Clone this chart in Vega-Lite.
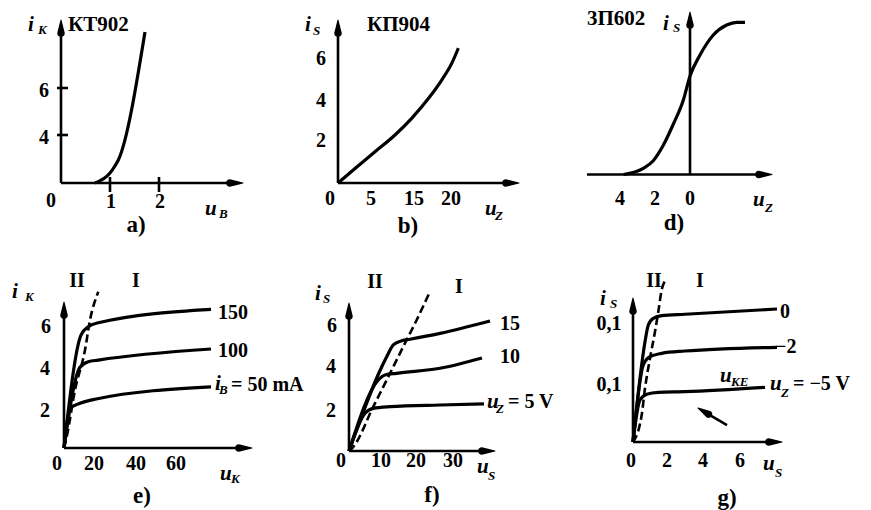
{
"$schema":"https://vega.github.io/schema/vega-lite/v6.json",
"background":"white",
"padding":0,
"spacing":0,
"bounds":"flush",
"align":"each",
"columns":3,
"config":{
"view":{"stroke":null},
"text":{"font":"Liberation Serif","fontWeight":"bold","fontSize":20,"baseline":"alphabetic","align":"left","color":"black"},
"line":{"color":"black","strokeWidth":3.2,"interpolate":"monotone"},
"rule":{"color":"black","strokeWidth":2.6},
"trail":{"color":"black","opacity":1}
},
"datasets":{
"curves":[
{"p":"a","s":"k","x":0.694,"y":1.957},{"p":"a","s":"k","x":1.0,"y":2.383},{"p":"a","s":"k","x":1.10,"y":2.68},{"p":"a","s":"k","x":1.17,"y":2.936},{"p":"a","s":"k","x":1.714,"y":8.383},
{"p":"b","s":"k","x":0,"y":0},{"p":"b","s":"k","x":3.11,"y":0.70},{"p":"b","s":"k","x":6.76,"y":1.50},{"p":"b","s":"k","x":10.42,"y":2.31},{"p":"b","s":"k","x":13.47,"y":3.11},{"p":"b","s":"k","x":16.52,"y":4.06},{"p":"b","s":"k","x":18.96,"y":4.95},{"p":"b","s":"k","x":20.79,"y":5.75},{"p":"b","s":"k","x":22.0,"y":6.48},
{"p":"d","s":"k","x":-3.8,"y":0},{"p":"d","s":"k","x":-2.67,"y":0.31},{"p":"d","s":"k","x":-2.10,"y":0.69},{"p":"d","s":"k","x":-1.52,"y":1.475},{"p":"d","s":"k","x":-0.95,"y":2.525},{"p":"d","s":"k","x":-0.38,"y":3.725},{"p":"d","s":"k","x":0,"y":4.925},{"p":"d","s":"k","x":0.571,"y":5.975},{"p":"d","s":"k","x":1.333,"y":6.975},{"p":"d","s":"k","x":2.095,"y":7.475},{"p":"d","s":"k","x":2.667,"y":7.61},{"p":"d","s":"k","x":3.143,"y":7.61},
{"p":"e","s":"150","x":0,"y":0},{"p":"e","s":"150","x":9.22,"y":5.51},{"p":"e","s":"150","x":13.19,"y":5.92},{"p":"e","s":"150","x":18.61,"y":6.11},{"p":"e","s":"150","x":79.76,"y":6.76},
{"p":"e","s":"100","x":0,"y":0},{"p":"e","s":"100","x":8.68,"y":3.94},{"p":"e","s":"100","x":13.19,"y":4.21},{"p":"e","s":"100","x":18.61,"y":4.29},{"p":"e","s":"100","x":79.76,"y":4.83},
{"p":"e","s":"50","x":0,"y":0},{"p":"e","s":"50","x":3.26,"y":1.94},{"p":"e","s":"50","x":8.68,"y":2.18},{"p":"e","s":"50","x":16.82,"y":2.38},{"p":"e","s":"50","x":79.76,"y":2.98},
{"p":"e","s":"dash","x":0,"y":0},{"p":"e","s":"dash","x":1.47,"y":0.55},{"p":"e","s":"dash","x":5.97,"y":2.83},{"p":"e","s":"dash","x":11.39,"y":4.78},{"p":"e","s":"dash","x":14.11,"y":6.24},{"p":"e","s":"dash","x":18.61,"y":7.62},
{"p":"f","s":"15","x":0,"y":0},{"p":"f","s":"15","x":10.77,"y":4.49},{"p":"f","s":"15","x":12.66,"y":5.05},{"p":"f","s":"15","x":15.06,"y":5.25},{"p":"f","s":"15","x":17.43,"y":5.32},{"p":"f","s":"15","x":26.0,"y":5.60},{"p":"f","s":"15","x":40.29,"y":6.19},
{"p":"f","s":"10","x":0,"y":0},{"p":"f","s":"10","x":8.37,"y":3.38},{"p":"f","s":"10","x":10.29,"y":3.62},{"p":"f","s":"10","x":13.63,"y":3.70},{"p":"f","s":"10","x":26.0,"y":3.94},{"p":"f","s":"10","x":38.0,"y":4.43},
{"p":"f","s":"5","x":0,"y":0},{"p":"f","s":"5","x":4.57,"y":1.80},{"p":"f","s":"5","x":6.94,"y":2.03},{"p":"f","s":"5","x":11.71,"y":2.11},{"p":"f","s":"5","x":26.0,"y":2.19},{"p":"f","s":"5","x":38.57,"y":2.24},
{"p":"f","s":"dash","x":0,"y":0},{"p":"f","s":"dash","x":1.23,"y":0.20},{"p":"f","s":"dash","x":6.94,"y":2.11},{"p":"f","s":"dash","x":10.77,"y":3.38},{"p":"f","s":"dash","x":15.51,"y":4.97},{"p":"f","s":"dash","x":19.34,"y":6.24},{"p":"f","s":"dash","x":23.14,"y":7.59},
{"p":"g","s":"0","x":0,"y":0},{"p":"g","s":"0","x":0.667,"y":0.1729},{"p":"g","s":"0","x":0.85,"y":0.2017},{"p":"g","s":"0","x":1.128,"y":0.2133},{"p":"g","s":"0","x":1.594,"y":0.2178},{"p":"g","s":"0","x":2.889,"y":0.2202},{"p":"g","s":"0","x":8.0,"y":0.2293},
{"p":"g","s":"-2","x":0,"y":0},{"p":"g","s":"-2","x":0.572,"y":0.1328},{"p":"g","s":"-2","x":0.944,"y":0.1471},{"p":"g","s":"-2","x":1.594,"y":0.1529},{"p":"g","s":"-2","x":2.889,"y":0.1569},{"p":"g","s":"-2","x":8.0,"y":0.1633},
{"p":"g","s":"-5","x":0,"y":0},{"p":"g","s":"-5","x":0.389,"y":0.0724},{"p":"g","s":"-5","x":0.761,"y":0.0822},{"p":"g","s":"-5","x":1.406,"y":0.0857},{"p":"g","s":"-5","x":2.889,"y":0.0867},{"p":"g","s":"-5","x":7.333,"y":0.0943},
{"p":"g","s":"dash","x":0,"y":0},{"p":"g","s":"dash","x":0.483,"y":0.0466},{"p":"g","s":"dash","x":0.667,"y":0.0926},{"p":"g","s":"dash","x":0.944,"y":0.1443},{"p":"g","s":"dash","x":1.222,"y":0.1902},{"p":"g","s":"dash","x":1.406,"y":0.2247},{"p":"g","s":"dash","x":1.594,"y":0.2621},{"p":"g","s":"dash","x":1.78,"y":0.278}
],
"axes":[
{"p":"a","x":0,"y":1.957,"x2":0,"y2":8.68},{"p":"a","x":0,"y":1.957,"x2":3.612,"y2":1.957},
{"p":"a","x":-0.082,"y":4,"x2":0.143,"y2":4},{"p":"a","x":-0.082,"y":6,"x2":0.143,"y2":6},
{"p":"a","x":1,"y":1.574,"x2":1,"y2":2.213},{"p":"a","x":2,"y":1.574,"x2":2,"y2":2.213},
{"p":"b","x":0,"y":0,"x2":0,"y2":7.597},{"p":"b","x":0,"y":0,"x2":32.18,"y2":0},
{"p":"d","x":0,"y":0,"x2":0,"y2":7.875},{"p":"d","x":-5.886,"y":0,"x2":4.40,"y2":0},
{"p":"e","x":0,"y":0,"x2":0,"y2":6.876},{"p":"e","x":0,"y":0,"x2":99.29,"y2":0},
{"p":"f","x":0,"y":0,"x2":0,"y2":6.81},{"p":"f","x":0,"y":0,"x2":40.28,"y2":0},
{"p":"g","x":0,"y":0,"x2":0,"y2":0.2397},{"p":"g","x":0,"y":0,"x2":8.0,"y2":0},
{"p":"g","x":5.222,"y":0.0293,"x2":3.851,"y2":0.0542}
],
"tips":[
{"p":"a","h":"up","x":0,"y":8.894,"w":0},{"p":"a","h":"up","x":0,"y":8.341,"w":1},
{"p":"a","h":"right","x":3.714,"y":1.957,"w":0},{"p":"a","h":"right","x":3.449,"y":1.957,"w":1},
{"p":"b","h":"up","x":0,"y":7.837,"w":0},{"p":"b","h":"up","x":0,"y":7.212,"w":1},
{"p":"b","h":"right","x":33.09,"y":0,"w":0},{"p":"b","h":"right","x":30.71,"y":0,"w":1},
{"p":"d","h":"up","x":0,"y":8.125,"w":0},{"p":"d","h":"up","x":0,"y":7.475,"w":1},
{"p":"d","h":"right","x":4.686,"y":0,"w":0},{"p":"d","h":"right","x":3.943,"y":0,"w":1},
{"p":"e","h":"up","x":0,"y":7.12,"w":0},{"p":"e","h":"up","x":0,"y":6.486,"w":1},
{"p":"e","h":"right","x":102.0,"y":0,"w":0},{"p":"e","h":"right","x":94.95,"y":0,"w":1},
{"p":"f","h":"up","x":0,"y":7.048,"w":0},{"p":"f","h":"up","x":0,"y":6.429,"w":1},
{"p":"f","h":"right","x":41.71,"y":0,"w":0},{"p":"f","h":"right","x":38.0,"y":0,"w":1},
{"p":"g","h":"up","x":0,"y":0.2483,"w":0},{"p":"g","h":"up","x":0,"y":0.2259,"w":1},
{"p":"g","h":"right","x":8.278,"y":0,"w":0},{"p":"g","h":"right","x":7.556,"y":0,"w":1},
{"p":"g","h":"ul","x":3.611,"y":0.0586,"w":0},{"p":"g","h":"ul","x":4.187,"y":0.0481,"w":1}
],
"labels":[
{"p":"a","k":"v","t":"i","x":-0.673,"y":8.426},
{"p":"a","k":"s","t":"K","x":-0.470,"y":8.298},
{"p":"a","k":"l","t":"КТ902","x":0.143,"y":8.426},
{"p":"a","k":"c","t":"6","x":-0.347,"y":5.617},
{"p":"a","k":"c","t":"4","x":-0.347,"y":3.617},
{"p":"a","k":"c","t":"0","x":-0.204,"y":0.936},
{"p":"a","k":"c","t":"1","x":1.020,"y":0.894},
{"p":"a","k":"c","t":"2","x":2.020,"y":0.894},
{"p":"a","k":"v","t":"u","x":2.939,"y":0.596},
{"p":"a","k":"s","t":"B","x":3.224,"y":0.468},
{"p":"a","k":"cap","t":"a)","x":1.531,"y":-0.128},
{"p":"b","k":"v","t":"i","x":-6.033,"y":7.308},
{"p":"b","k":"s","t":"S","x":-4.571,"y":7.115},
{"p":"b","k":"l","t":"КП904","x":5.302,"y":7.308},
{"p":"b","k":"c","t":"6","x":-3.108,"y":5.673},
{"p":"b","k":"c","t":"4","x":-3.108,"y":3.654},
{"p":"b","k":"c","t":"2","x":-3.108,"y":1.731},
{"p":"b","k":"c","t":"0","x":-1.463,"y":-1.058},
{"p":"b","k":"c","t":"5","x":6.033,"y":-1.058},
{"p":"b","k":"c","t":"15","x":13.894,"y":-1.058},
{"p":"b","k":"c","t":"20","x":20.658,"y":-1.058},
{"p":"b","k":"v","t":"u","x":26.874,"y":-1.538},
{"p":"b","k":"s","t":"Z","x":28.702,"y":-1.779},
{"p":"b","k":"cap","t":"b)","x":12.797,"y":-2.404},
{"p":"d","k":"l","t":"3П602","x":-5.886,"y":7.475},
{"p":"d","k":"v","t":"i","x":-1.543,"y":7.225},
{"p":"d","k":"s","t":"S","x":-0.971,"y":7.125},
{"p":"d","k":"c","t":"4","x":-4,"y":-1.525},
{"p":"d","k":"c","t":"2","x":-2,"y":-1.525},
{"p":"d","k":"c","t":"0","x":0,"y":-1.525},
{"p":"d","k":"v","t":"u","x":3.6,"y":-1.575},
{"p":"d","k":"s","t":"Z","x":4.286,"y":-1.875},
{"p":"d","k":"cap","t":"d)","x":-0.914,"y":-2.775},
{"p":"e","k":"v","t":"i","x":-28.21,"y":7.317},
{"p":"e","k":"s","t":"K","x":-21.17,"y":7.171},
{"p":"e","k":"c","t":"II","x":7.05,"y":7.854},
{"p":"e","k":"c","t":"I","x":39.07,"y":7.854},
{"p":"e","k":"c","t":"6","x":-9.77,"y":5.61},
{"p":"e","k":"c","t":"4","x":-10.31,"y":3.561},
{"p":"e","k":"c","t":"2","x":-10.31,"y":1.512},
{"p":"e","k":"c","t":"0","x":-3.80,"y":-1.073},
{"p":"e","k":"c","t":"20","x":16.28,"y":-1.073},
{"p":"e","k":"c","t":"40","x":39.07,"y":-1.073},
{"p":"e","k":"c","t":"60","x":60.77,"y":-1.073},
{"p":"e","k":"v","t":"u","x":84.65,"y":-1.561},
{"p":"e","k":"s","t":"K","x":90.62,"y":-1.707},
{"p":"e","k":"cap","t":"e)","x":42.32,"y":-2.683},
{"p":"e","k":"l","t":"150","x":83.56,"y":6.293},
{"p":"e","k":"l","t":"100","x":83.56,"y":4.439},
{"p":"e","k":"v","t":"i","x":81.93,"y":2.829},
{"p":"e","k":"s","t":"B","x":84.11,"y":2.634},
{"p":"e","k":"l","t":"= 50 mA","x":90.61,"y":2.780},
{"p":"f","k":"v","t":"i","x":-9.714,"y":7.190},
{"p":"f","k":"s","t":"S","x":-7.428,"y":7.048},
{"p":"f","k":"c","t":"II","x":7.429,"y":7.762},
{"p":"f","k":"c","t":"I","x":31.43,"y":7.524},
{"p":"f","k":"c","t":"6","x":-4.857,"y":5.667},
{"p":"f","k":"c","t":"4","x":-5.143,"y":3.714},
{"p":"f","k":"c","t":"2","x":-5.143,"y":1.619},
{"p":"f","k":"c","t":"0","x":-2.286,"y":-0.762},
{"p":"f","k":"c","t":"10","x":9.143,"y":-0.762},
{"p":"f","k":"c","t":"20","x":19.14,"y":-0.762},
{"p":"f","k":"c","t":"30","x":29.71,"y":-0.762},
{"p":"f","k":"v","t":"u","x":36.57,"y":-1.048},
{"p":"f","k":"s","t":"S","x":39.72,"y":-1.381},
{"p":"f","k":"cap","t":"f)","x":23.71,"y":-2.429},
{"p":"f","k":"l","t":"15","x":43.14,"y":5.762},
{"p":"f","k":"l","t":"10","x":43.14,"y":4.190},
{"p":"f","k":"v","t":"u","x":39.43,"y":2.048},
{"p":"f","k":"s","t":"Z","x":42.0,"y":1.810},
{"p":"f","k":"l","t":"= 5 V","x":45.43,"y":2.048},
{"p":"g","k":"v","t":"i","x":-1.833,"y":0.2362},
{"p":"g","k":"s","t":"S","x":-1.278,"y":0.2310},
{"p":"g","k":"c","t":"II","x":1.167,"y":0.2672},
{"p":"g","k":"c","t":"I","x":3.722,"y":0.2672},
{"p":"g","k":"c","t":"0,1","x":-1.333,"y":0.1931},
{"p":"g","k":"c","t":"0,1","x":-1.333,"y":0.0879},
{"p":"g","k":"c","t":"0","x":-0.111,"y":-0.0431},
{"p":"g","k":"c","t":"2","x":1.889,"y":-0.0431},
{"p":"g","k":"c","t":"4","x":3.889,"y":-0.0431},
{"p":"g","k":"c","t":"6","x":5.944,"y":-0.0431},
{"p":"g","k":"v","t":"u","x":7.222,"y":-0.0483},
{"p":"g","k":"s","t":"S","x":7.889,"y":-0.0603},
{"p":"g","k":"cap","t":"g)","x":5.222,"y":-0.1086},
{"p":"g","k":"l","t":"0","x":8.167,"y":0.2138},
{"p":"g","k":"l","t":"−2","x":7.889,"y":0.1534},
{"p":"g","k":"v","t":"u","x":7.611,"y":0.0897},
{"p":"g","k":"s","t":"Z","x":8.222,"y":0.0776},
{"p":"g","k":"l","t":"= −5 V","x":8.889,"y":0.0897},
{"p":"g","k":"v","t":"u","x":4.833,"y":0.1034},
{"p":"g","k":"s","t":"KE","x":5.445,"y":0.0966}
]
},
"concat":[
{"width":290,"height":250,
"encoding":{"x":{"field":"x","type":"quantitative","axis":null,"scale":{"domain":[-1.2449,4.6735],"nice":false,"zero":false}},"y":{"field":"y","type":"quantitative","axis":null,"scale":{"domain":[-0.8936,9.7447],"nice":false,"zero":false}}},
"layer":[
{"data":{"name":"axes"},"transform":[{"filter":"datum.p=='a'"}],"mark":"rule","encoding":{"x2":{"field":"x2"},"y2":{"field":"y2"}}},
{"data":{"name":"tips"},"transform":[{"filter":"datum.p=='a'"}],"mark":{"type":"trail"},"encoding":{"detail":{"field":"h"},"size":{"field":"w","type":"quantitative","scale":{"domain":[0,1],"range":[0,7.5]},"legend":null}}},
{"data":{"name":"curves"},"transform":[{"filter":"datum.p=='a' && datum.s!='dash'"}],"mark":{"type":"line"},"encoding":{"detail":{"field":"s"}}},
{"data":{"name":"labels"},"transform":[{"filter":"datum.p=='a' && datum.k=='c'"}],"mark":{"type":"text","align":"center"},"encoding":{"text":{"field":"t"}}},
{"data":{"name":"labels"},"transform":[{"filter":"datum.p=='a' && datum.k=='l'"}],"mark":{"type":"text","fontSize":21},"encoding":{"text":{"field":"t"}}},
{"data":{"name":"labels"},"transform":[{"filter":"datum.p=='a' && datum.k=='cap'"}],"mark":{"type":"text","align":"center","fontSize":23},"encoding":{"text":{"field":"t"}}},
{"data":{"name":"labels"},"transform":[{"filter":"datum.p=='a' && datum.k=='v'"}],"mark":{"type":"text","fontStyle":"italic","fontSize":21},"encoding":{"text":{"field":"t"}}},
{"data":{"name":"labels"},"transform":[{"filter":"datum.p=='a' && datum.k=='s'"}],"mark":{"type":"text","fontStyle":"italic","fontSize":13},"encoding":{"text":{"field":"t"}}}
]},
{"width":290,"height":250,
"encoding":{"x":{"field":"x","type":"quantitative","axis":null,"scale":{"domain":[-8.775,44.241],"nice":false,"zero":false}},"y":{"field":"y","type":"quantitative","axis":null,"scale":{"domain":[-3.221,8.798],"nice":false,"zero":false}}},
"layer":[
{"data":{"name":"axes"},"transform":[{"filter":"datum.p=='b'"}],"mark":"rule","encoding":{"x2":{"field":"x2"},"y2":{"field":"y2"}}},
{"data":{"name":"tips"},"transform":[{"filter":"datum.p=='b'"}],"mark":{"type":"trail"},"encoding":{"detail":{"field":"h"},"size":{"field":"w","type":"quantitative","scale":{"domain":[0,1],"range":[0,7.5]},"legend":null}}},
{"data":{"name":"curves"},"transform":[{"filter":"datum.p=='b' && datum.s!='dash'"}],"mark":{"type":"line"},"encoding":{"detail":{"field":"s"}}},
{"data":{"name":"labels"},"transform":[{"filter":"datum.p=='b' && datum.k=='c'"}],"mark":{"type":"text","align":"center"},"encoding":{"text":{"field":"t"}}},
{"data":{"name":"labels"},"transform":[{"filter":"datum.p=='b' && datum.k=='l'"}],"mark":{"type":"text","fontSize":21},"encoding":{"text":{"field":"t"}}},
{"data":{"name":"labels"},"transform":[{"filter":"datum.p=='b' && datum.k=='cap'"}],"mark":{"type":"text","align":"center","fontSize":23},"encoding":{"text":{"field":"t"}}},
{"data":{"name":"labels"},"transform":[{"filter":"datum.p=='b' && datum.k=='v'"}],"mark":{"type":"text","fontStyle":"italic","fontSize":21},"encoding":{"text":{"field":"t"}}},
{"data":{"name":"labels"},"transform":[{"filter":"datum.p=='b' && datum.k=='s'"}],"mark":{"type":"text","fontStyle":"italic","fontSize":13},"encoding":{"text":{"field":"t"}}}
]},
{"width":291,"height":250,
"encoding":{"x":{"field":"x","type":"quantitative","axis":null,"scale":{"domain":[-6.2857,10.3429],"nice":false,"zero":false}},"y":{"field":"y","type":"quantitative","axis":null,"scale":{"domain":[-3.775,8.725],"nice":false,"zero":false}}},
"layer":[
{"data":{"name":"axes"},"transform":[{"filter":"datum.p=='d'"}],"mark":"rule","encoding":{"x2":{"field":"x2"},"y2":{"field":"y2"}}},
{"data":{"name":"tips"},"transform":[{"filter":"datum.p=='d'"}],"mark":{"type":"trail"},"encoding":{"detail":{"field":"h"},"size":{"field":"w","type":"quantitative","scale":{"domain":[0,1],"range":[0,7.5]},"legend":null}}},
{"data":{"name":"curves"},"transform":[{"filter":"datum.p=='d' && datum.s!='dash'"}],"mark":{"type":"line"},"encoding":{"detail":{"field":"s"}}},
{"data":{"name":"labels"},"transform":[{"filter":"datum.p=='d' && datum.k=='c'"}],"mark":{"type":"text","align":"center"},"encoding":{"text":{"field":"t"}}},
{"data":{"name":"labels"},"transform":[{"filter":"datum.p=='d' && datum.k=='l'"}],"mark":{"type":"text","fontSize":21},"encoding":{"text":{"field":"t"}}},
{"data":{"name":"labels"},"transform":[{"filter":"datum.p=='d' && datum.k=='cap'"}],"mark":{"type":"text","align":"center","fontSize":23},"encoding":{"text":{"field":"t"}}},
{"data":{"name":"labels"},"transform":[{"filter":"datum.p=='d' && datum.k=='v'"}],"mark":{"type":"text","fontStyle":"italic","fontSize":21},"encoding":{"text":{"field":"t"}}},
{"data":{"name":"labels"},"transform":[{"filter":"datum.p=='d' && datum.k=='s'"}],"mark":{"type":"text","fontStyle":"italic","fontSize":13},"encoding":{"text":{"field":"t"}}}
]},
{"width":290,"height":260,
"encoding":{"x":{"field":"x","type":"quantitative","axis":null,"scale":{"domain":[-34.726,122.62],"nice":false,"zero":false}},"y":{"field":"y","type":"quantitative","axis":null,"scale":{"domain":[-3.024,9.659],"nice":false,"zero":false}}},
"layer":[
{"data":{"name":"axes"},"transform":[{"filter":"datum.p=='e'"}],"mark":"rule","encoding":{"x2":{"field":"x2"},"y2":{"field":"y2"}}},
{"data":{"name":"tips"},"transform":[{"filter":"datum.p=='e'"}],"mark":{"type":"trail"},"encoding":{"detail":{"field":"h"},"size":{"field":"w","type":"quantitative","scale":{"domain":[0,1],"range":[0,7.5]},"legend":null}}},
{"data":{"name":"curves"},"transform":[{"filter":"datum.p=='e' && datum.s!='dash'"}],"mark":{"type":"line"},"encoding":{"detail":{"field":"s"}}},
{"data":{"name":"curves"},"transform":[{"filter":"datum.p=='e' && datum.s=='dash'"}],"mark":{"type":"line","strokeWidth":2.6,"strokeDash":[8,4]}},
{"data":{"name":"labels"},"transform":[{"filter":"datum.p=='e' && datum.k=='c'"}],"mark":{"type":"text","align":"center"},"encoding":{"text":{"field":"t"}}},
{"data":{"name":"labels"},"transform":[{"filter":"datum.p=='e' && datum.k=='l'"}],"mark":{"type":"text"},"encoding":{"text":{"field":"t"}}},
{"data":{"name":"labels"},"transform":[{"filter":"datum.p=='e' && datum.k=='cap'"}],"mark":{"type":"text","align":"center","fontSize":23},"encoding":{"text":{"field":"t"}}},
{"data":{"name":"labels"},"transform":[{"filter":"datum.p=='e' && datum.k=='v'"}],"mark":{"type":"text","fontStyle":"italic","fontSize":21},"encoding":{"text":{"field":"t"}}},
{"data":{"name":"labels"},"transform":[{"filter":"datum.p=='e' && datum.k=='s'"}],"mark":{"type":"text","fontStyle":"italic","fontSize":13},"encoding":{"text":{"field":"t"}}}
]},
{"width":290,"height":260,
"encoding":{"x":{"field":"x","type":"quantitative","axis":null,"scale":{"domain":[-16.857,66.0],"nice":false,"zero":false}},"y":{"field":"y","type":"quantitative","axis":null,"scale":{"domain":[-2.810,9.571],"nice":false,"zero":false}}},
"layer":[
{"data":{"name":"axes"},"transform":[{"filter":"datum.p=='f'"}],"mark":"rule","encoding":{"x2":{"field":"x2"},"y2":{"field":"y2"}}},
{"data":{"name":"tips"},"transform":[{"filter":"datum.p=='f'"}],"mark":{"type":"trail"},"encoding":{"detail":{"field":"h"},"size":{"field":"w","type":"quantitative","scale":{"domain":[0,1],"range":[0,7.5]},"legend":null}}},
{"data":{"name":"curves"},"transform":[{"filter":"datum.p=='f' && datum.s!='dash'"}],"mark":{"type":"line"},"encoding":{"detail":{"field":"s"}}},
{"data":{"name":"curves"},"transform":[{"filter":"datum.p=='f' && datum.s=='dash'"}],"mark":{"type":"line","strokeWidth":2.6,"strokeDash":[8,4]}},
{"data":{"name":"labels"},"transform":[{"filter":"datum.p=='f' && datum.k=='c'"}],"mark":{"type":"text","align":"center"},"encoding":{"text":{"field":"t"}}},
{"data":{"name":"labels"},"transform":[{"filter":"datum.p=='f' && datum.k=='l'"}],"mark":{"type":"text"},"encoding":{"text":{"field":"t"}}},
{"data":{"name":"labels"},"transform":[{"filter":"datum.p=='f' && datum.k=='cap'"}],"mark":{"type":"text","align":"center","fontSize":23},"encoding":{"text":{"field":"t"}}},
{"data":{"name":"labels"},"transform":[{"filter":"datum.p=='f' && datum.k=='v'"}],"mark":{"type":"text","fontStyle":"italic","fontSize":21},"encoding":{"text":{"field":"t"}}},
{"data":{"name":"labels"},"transform":[{"filter":"datum.p=='f' && datum.k=='s'"}],"mark":{"type":"text","fontStyle":"italic","fontSize":13},"encoding":{"text":{"field":"t"}}}
]},
{"width":291,"height":260,
"encoding":{"x":{"field":"x","type":"quantitative","axis":null,"scale":{"domain":[-2.944,13.222],"nice":false,"zero":false}},"y":{"field":"y","type":"quantitative","axis":null,"scale":{"domain":[-0.1172,0.3310],"nice":false,"zero":false}}},
"layer":[
{"data":{"name":"axes"},"transform":[{"filter":"datum.p=='g'"}],"mark":"rule","encoding":{"x2":{"field":"x2"},"y2":{"field":"y2"}}},
{"data":{"name":"tips"},"transform":[{"filter":"datum.p=='g'"}],"mark":{"type":"trail"},"encoding":{"detail":{"field":"h"},"size":{"field":"w","type":"quantitative","scale":{"domain":[0,1],"range":[0,7.5]},"legend":null}}},
{"data":{"name":"curves"},"transform":[{"filter":"datum.p=='g' && datum.s!='dash'"}],"mark":{"type":"line"},"encoding":{"detail":{"field":"s"}}},
{"data":{"name":"curves"},"transform":[{"filter":"datum.p=='g' && datum.s=='dash'"}],"mark":{"type":"line","strokeWidth":2.6,"strokeDash":[8,4]}},
{"data":{"name":"labels"},"transform":[{"filter":"datum.p=='g' && datum.k=='c'"}],"mark":{"type":"text","align":"center"},"encoding":{"text":{"field":"t"}}},
{"data":{"name":"labels"},"transform":[{"filter":"datum.p=='g' && datum.k=='l'"}],"mark":{"type":"text"},"encoding":{"text":{"field":"t"}}},
{"data":{"name":"labels"},"transform":[{"filter":"datum.p=='g' && datum.k=='cap'"}],"mark":{"type":"text","align":"center","fontSize":23},"encoding":{"text":{"field":"t"}}},
{"data":{"name":"labels"},"transform":[{"filter":"datum.p=='g' && datum.k=='v'"}],"mark":{"type":"text","fontStyle":"italic","fontSize":21},"encoding":{"text":{"field":"t"}}},
{"data":{"name":"labels"},"transform":[{"filter":"datum.p=='g' && datum.k=='s'"}],"mark":{"type":"text","fontStyle":"italic","fontSize":13},"encoding":{"text":{"field":"t"}}}
]}
]
}
